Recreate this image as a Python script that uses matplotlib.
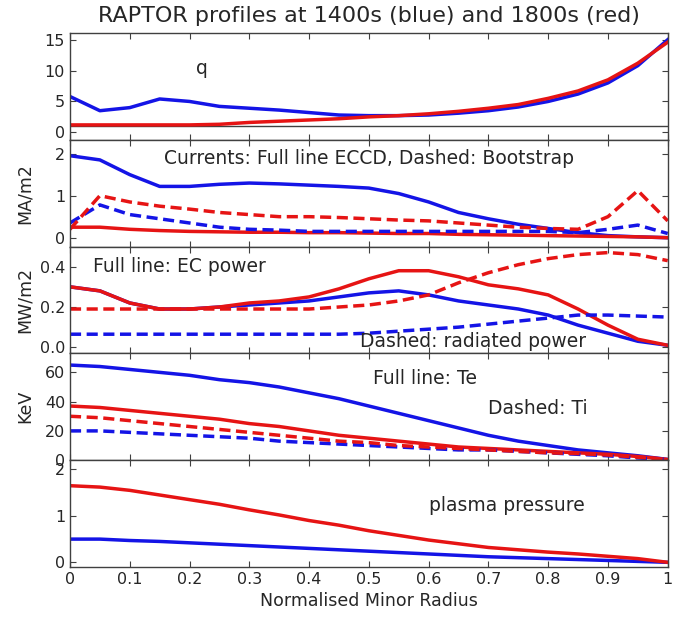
import numpy as np
import matplotlib
matplotlib.use('Agg')
from matplotlib import pyplot as plt

r = np.linspace(0, 1, 21)

# q profile
q_blue = [5.8, 3.5, 4.0, 5.4, 5.0, 4.2, 3.9, 3.6, 3.2, 2.8, 2.7, 2.7, 2.8, 3.1, 3.5, 4.1, 5.0, 6.2, 8.0, 10.8, 15.0]
q_red = [1.2, 1.2, 1.2, 1.2, 1.2, 1.3, 1.6, 1.8, 2.0, 2.2, 2.5, 2.7, 3.0, 3.4, 3.9, 4.5, 5.5, 6.7, 8.5, 11.2, 14.6]

# currents (MA/m2)
eccd_blue = [1.95, 1.85, 1.5, 1.22, 1.22, 1.27, 1.3, 1.28, 1.25, 1.22, 1.18, 1.05, 0.85, 0.6, 0.45, 0.32, 0.22, 0.12, 0.05, 0.02, 0.0]
eccd_red = [0.25, 0.25, 0.2, 0.17, 0.15, 0.14, 0.13, 0.13, 0.12, 0.12, 0.11, 0.1, 0.1, 0.08, 0.07, 0.06, 0.05, 0.04, 0.03, 0.02, 0.0]
bs_blue = [0.35, 0.78, 0.55, 0.45, 0.35, 0.25, 0.2, 0.18, 0.15, 0.15, 0.15, 0.15, 0.15, 0.15, 0.15, 0.15, 0.15, 0.12, 0.2, 0.3, 0.1]
bs_red = [0.2, 1.0, 0.85, 0.75, 0.68, 0.6, 0.55, 0.5, 0.5, 0.48, 0.45, 0.42, 0.4, 0.35, 0.3, 0.25, 0.22, 0.2, 0.5, 1.12, 0.4]

# power densities (MW/m2)
ec_blue = [0.30, 0.28, 0.22, 0.19, 0.19, 0.20, 0.21, 0.22, 0.23, 0.25, 0.27, 0.28, 0.26, 0.23, 0.21, 0.19, 0.16, 0.11, 0.07, 0.03, 0.01]
ec_red = [0.30, 0.28, 0.22, 0.19, 0.19, 0.20, 0.22, 0.23, 0.25, 0.29, 0.34, 0.38, 0.38, 0.35, 0.31, 0.29, 0.26, 0.19, 0.11, 0.04, 0.01]
rad_blue = [0.065, 0.065, 0.065, 0.065, 0.065, 0.065, 0.065, 0.065, 0.065, 0.065, 0.07, 0.08, 0.09, 0.10, 0.115, 0.13, 0.145, 0.16, 0.16, 0.155, 0.15]
rad_red = [0.19, 0.19, 0.19, 0.19, 0.19, 0.19, 0.19, 0.19, 0.19, 0.20, 0.21, 0.23, 0.26, 0.32, 0.37, 0.41, 0.44, 0.46, 0.47, 0.46, 0.43]

# temperatures (keV)
te_blue = [65, 64, 62, 60, 58, 55, 53, 50, 46, 42, 37, 32, 27, 22, 17, 13, 10, 7, 5, 3, 0.5]
te_red = [37, 36, 34, 32, 30, 28, 25, 23, 20, 17, 15, 13, 11, 9, 8, 7, 6, 5, 4, 2.5, 0.5]
ti_blue = [20, 20, 19, 18, 17, 16, 15, 13, 12, 11, 10, 9, 8, 7, 7, 6, 5, 4, 3, 1.5, 0.5]
ti_red = [30, 29, 27, 25, 23, 21, 19, 17, 15, 13, 12, 10, 9, 8, 7, 6, 5, 4.5, 3.5, 2, 0.5]

# plasma pressure
p_blue = [0.5, 0.5, 0.47, 0.45, 0.42, 0.39, 0.36, 0.33, 0.3, 0.27, 0.24, 0.21, 0.18, 0.15, 0.12, 0.1, 0.08, 0.06, 0.04, 0.02, 0.0]
p_red = [1.65, 1.62, 1.55, 1.45, 1.35, 1.25, 1.13, 1.02, 0.9, 0.8, 0.68, 0.58, 0.48, 0.4, 0.32, 0.27, 0.22, 0.18, 0.13, 0.08, 0.0]

BLUE = '#1414e6'
RED = '#e61414'
TXT = '#262626'
lw = 2.5
dash = (3.2, 1.6)
fs_note = 13.5

plt.rcParams['font.family'] = 'DejaVu Sans'
plt.rcParams['font.size'] = 11.5

fig = plt.figure(figsize=(6.97, 6.21), dpi=100)
axarr = fig.subplots(5, 1, sharex=True)
fig.subplots_adjust(left=0.1004, right=0.958, top=0.947, bottom=0.087, hspace=0)

ax = axarr[0]
ax.axhline(1, color='#404040', lw=1.0)
ax.plot(r, q_blue, color=BLUE, lw=lw)
ax.plot(r, q_red, color=RED, lw=lw)
ax.set_ylim(-1.2, 16.1)
ax.set_yticks([0, 5, 10, 15])
ax.text(0.22, 10.4, 'q', color=TXT, fontsize=fs_note, ha='center', va='center')

ax = axarr[1]
ax.plot(r, eccd_blue, color=BLUE, lw=lw)
ax.plot(r, eccd_red, color=RED, lw=lw)
ax.plot(r, bs_blue, color=BLUE, lw=lw, dashes=dash)
ax.plot(r, bs_red, color=RED, lw=lw, dashes=dash)
ax.set_ylim(-0.21, 2.33)
ax.set_yticks([0, 1, 2])
ax.set_ylabel('MA/m2', color=TXT, fontsize=12.5)
ax.text(0.5, 1.88, 'Currents: Full line ECCD, Dashed: Bootstrap', color=TXT, fontsize=fs_note, ha='center', va='center')

ax = axarr[2]
ax.plot(r, ec_blue, color=BLUE, lw=lw)
ax.plot(r, ec_red, color=RED, lw=lw)
ax.plot(r, rad_blue, color=BLUE, lw=lw, dashes=dash)
ax.plot(r, rad_red, color=RED, lw=lw, dashes=dash)
ax.set_ylim(-0.03, 0.5)
ax.set_yticks([0, 0.2, 0.4])
ax.set_ylabel('MW/m2', color=TXT, fontsize=12.5)
ax.text(0.038, 0.4, 'Full line: EC power', color=TXT, fontsize=fs_note, ha='left', va='center')
ax.text(0.485, 0.03, 'Dashed: radiated power', color=TXT, fontsize=fs_note, ha='left', va='center')

ax = axarr[3]
ax.plot(r, te_blue, color=BLUE, lw=lw)
ax.plot(r, te_red, color=RED, lw=lw)
ax.plot(r, ti_blue, color=BLUE, lw=lw, dashes=dash)
ax.plot(r, ti_red, color=RED, lw=lw, dashes=dash)
ax.set_ylim(0, 73)
ax.set_yticks([0, 20, 40, 60])
ax.set_ylabel('KeV', color=TXT, fontsize=12.5)
ax.text(0.507, 56, 'Full line: Te', color=TXT, fontsize=fs_note, ha='left', va='center')
ax.text(0.70, 35, 'Dashed: Ti', color=TXT, fontsize=fs_note, ha='left', va='center')

ax = axarr[4]
ax.plot(r, p_blue, color=BLUE, lw=lw)
ax.plot(r, p_red, color=RED, lw=lw)
ax.set_ylim(-0.1, 2.2)
ax.set_yticks([0, 1, 2])
ax.text(0.60, 1.22, 'plasma pressure', color=TXT, fontsize=fs_note, ha='left', va='center')
ax.set_xlabel('Normalised Minor Radius', color=TXT, fontsize=12.5)

for a in axarr:
	a.set_xlim(0, 1)
	a.set_xticks(np.arange(0, 1.01, 0.1))
	a.tick_params(direction='in', top=True, right=True, length=4, colors='#404040', labelcolor=TXT, labelsize=11.5)
	for s in a.spines.values():
		s.set_color('#404040')
		s.set_linewidth(1.0)
axarr[4].set_xticklabels(['0', '0.1', '0.2', '0.3', '0.4', '0.5', '0.6', '0.7', '0.8', '0.9', '1'])
fig.align_ylabels(axarr)

# title centred over the axes, not the figure
fig.suptitle('RAPTOR profiles at 1400s (blue) and 1800s (red)', color=TXT, fontsize=16, x=0.529, y=0.99)

plt.savefig('out.png', dpi=100)
